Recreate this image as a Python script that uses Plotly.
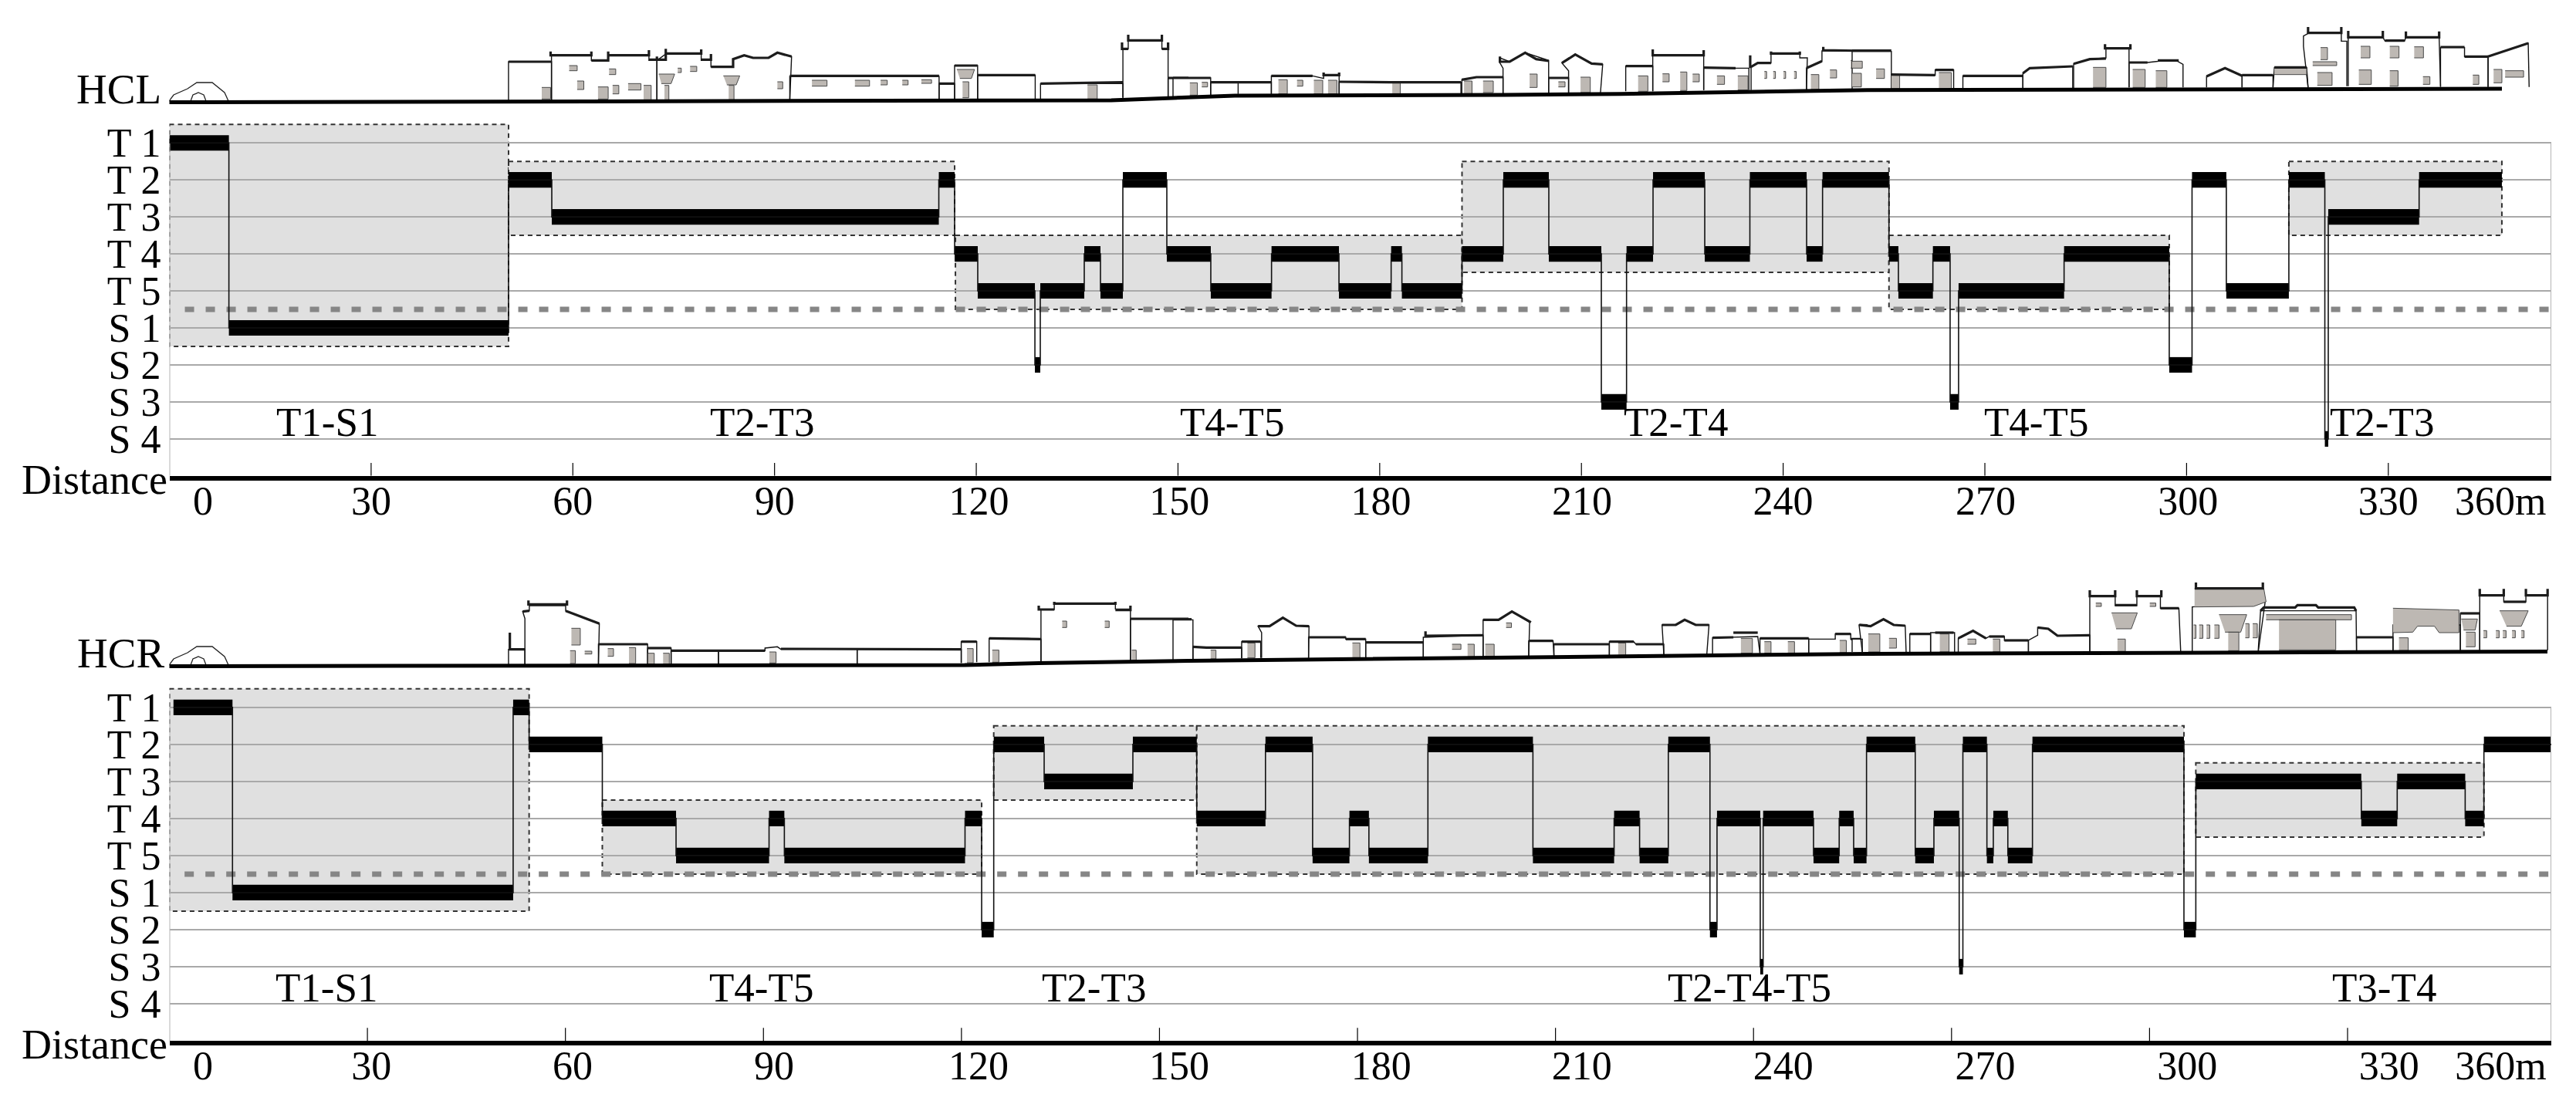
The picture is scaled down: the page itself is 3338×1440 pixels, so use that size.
import plotly.graph_objects as go

FIG_W, FIG_H = 3338, 1440
FONT = "Liberation Serif"

LEVEL_LABELS = ["T 1", "T 2", "T 3", "T 4", "T 5", "S 1", "S 2", "S 3", "S 4"]
LEVEL_VALUES = [1, 2, 3, 4, 5, 6, 7, 8, 9]
TICK_METRES = [30, 60, 90, 120, 150, 180, 210, 240, 270, 300, 330]
DIST_LABELS = ["0", "30", "60", "90", "120", "150", "180", "210", "240", "270", "300", "330", "360m"]

# ---- HCL ----
HCL_BREAKS = [0, 8.85, 50.44, 56.87, 114.43, 116.78, 120.22, 128.72, 129.52, 136.06, 138.47, 141.80,
              148.34, 154.88, 163.91, 173.94, 181.70, 183.30, 192.24, 198.38, 205.15, 212.96, 216.71,
              220.65, 228.34, 235.05, 243.49, 245.86, 255.74, 257.14, 262.27, 264.83, 266.09, 281.78,
              297.42, 300.81, 305.91, 315.21, 320.56, 321.07, 334.58, 346.89]
HCL_LEVELS = [1, 6, 2, 3, 2, 4, 5, 7, 5, 4, 5, 2, 4, 5, 4, 5, 4, 5, 4, 2, 4, 8, 4, 2, 4, 2, 4, 2, 4, 5,
              4, 8, 5, 4, 7, 2, 5, 2, 9, 3, 2]
HCL_BOX_X0 = [0, 50.44, 116.9, 192.24, 255.74, 315.21]
HCL_BOX_X1 = [50.44, 116.78, 192.24, 255.74, 297.42, 346.89]
HCL_BOX_TOP = [0.5, 1.5, 3.5, 1.5, 3.5, 1.5]
HCL_BOX_BOTTOM = [6.5, 3.5, 5.5, 4.5, 5.5, 3.5]
HCL_ZONE_TEXT = ["T1-S1", "T2-T3", "T4-T5", "T2-T4", "T4-T5", "T2-T3"]
HCL_ZONE_X = [23.5, 88.1, 158, 224, 277.6, 329]
HCL_LABEL_X = [5.0, 30, 60, 90, 120.4, 150.2, 180.2, 210.1, 240, 270.1, 300.2, 330, 346.7]

# ---- HCR ----
HCR_BREAKS = [0.62, 9.56, 52.08, 54.50, 65.59, 76.76, 90.85, 93.17, 120.54, 123.06, 124.89, 132.53,
              145.97, 155.65, 166.06, 173.20, 178.78, 181.73, 190.67, 206.58, 218.88, 222.74, 227.09,
              233.40, 234.47, 241.02, 241.46, 249.09, 252.98, 255.17, 257.12, 264.50, 267.33, 271.16,
              271.72, 275.36, 276.33, 278.53, 282.26, 305.21, 307.01, 332.08, 337.52, 347.82, 350.66, 360.87]
HCR_LEVELS = [1, 6, 1, 2, 4, 5, 4, 5, 4, 7, 2, 3, 2, 4, 2, 5, 4, 5, 2, 5, 4, 5, 2, 7, 4, 8, 4, 5, 4, 5,
              2, 5, 4, 8, 2, 5, 4, 5, 2, 7, 3, 4, 3, 4, 2]
HCR_BOX_X0 = [0, 65.59, 124.89, 155.65, 307.01]
HCR_BOX_X1 = [54.50, 123.06, 155.65, 305.21, 350.66]
HCR_BOX_TOP = [0.5, 3.5, 1.5, 1.5, 2.5]
HCR_BOX_BOTTOM = [6.5, 5.5, 3.5, 5.5, 4.5]
HCR_ZONE_TEXT = ["T1-S1", "T4-T5", "T2-T3", "T2-T4-T5", "T3-T4"]
HCR_ZONE_X = [23.9, 89.7, 140.1, 239.4, 335.6]
HCR_LABEL_X = [5.1, 30.6, 61.1, 91.6, 122.6, 153, 183.6, 214, 244.5, 275.1, 305.7, 336.3, 353.2]

# ---- street elevation drawings (drawing units, three sheets per street) ----
HCL_GROUND = [(219, 112.5), (1440, 110), (1520, 107), (1600, 104), (1950, 103), (2100, 101.7), (2420, 96.7), (3242, 95)]
HCR_GROUND = [(219, 113.5), (1250, 112), (1346, 109.5), (1540, 106.5), (2420, 97.5), (3301, 94.5)]
HCL_BRIDGE = [(219, 131), (225, 123), (243, 115), (255, 107), (275, 107), (285, 115), (291, 120), (296, 131)]
HCR_BRIDGE = [(219, 862), (225, 854), (243, 846), (255, 838), (275, 838), (285, 846), (291, 851), (296, 862)]
ARCH = [(247, 131), (250, 123), (257, 120), (264, 123), (267, 131)]

L1_WALLS = [
    [(33,330),(33,180),(130,180),(130,330)],
    [(130,330),(130,155),(220,155),(220,175),(258,175),(258,155),(350,155),(350,175),(368,175),(368,330)],
    [(368,330),(368,175),(388,150),(468,150),(468,175),(490,175),(490,200),(540,200),(540,170),(565,155),(585,165),(620,165),(640,145),(672,160),(668,330)],
    [(668,330),(668,237),(1005,237),(1005,330)],
    [(1005,330),(1005,265),(1040,265),(1040,325)],
    [(1040,325),(1040,195),(1092,195),(1092,325)],
    [(1092,325),(1092,232),(1222,232),(1222,325)],
    [(1234,325),(1234,265),(1420,265),(1420,320)],
    [(1420,320),(1420,130),(1432,130),(1432,98),(1508,98),(1508,130),(1522,130),(1522,315)],
    [(1522,315),(1522,245),(1568,245),(1568,310)],
]
L1_ROOFS = [
    [(33,180),(130,180)], [(128,140),(128,155),(220,155),(220,140)], [(220,175),(258,175),(258,140)], [(258,155),(350,155),(350,135)],
    [(350,172),(388,172),(388,130)], [(388,148),(468,148),(468,132)], [(468,172),(490,172),(490,150)],
    [(490,200),(540,200),(540,170),(565,155),(585,165),(620,165),(640,145),(672,160)],
    [(668,235),(1005,235)], [(1005,265),(1040,265)], [(1040,195),(1092,195)], [(1092,232),(1222,232)],
    [(1234,265),(1420,260)], [(1432,75),(1432,97),(1508,97),(1508,75)], [(1418,105),(1418,130),(1432,130)], [(1508,130),(1522,130),(1522,105)],
    [(1522,243),(1568,243)], [(368,160),(368,175)],
]
L1_GREYS = [
    (170,195,188,215), (260,208,275,230), (188,255,203,288), (268,272,282,305), (235,278,258,325),
    (338,272,355,330), (385,272,395,330), (530,272,542,330), (640,258,652,285), (108,280,128,325),
    (718,252,752,275), (815,252,848,275), (873,252,888,270), (922,252,935,270), (965,250,988,264),
    (1058,258,1072,320), (1340,270,1362,325), (303,265,332,290), (415,205,423,222), (443,198,458,218),
    [(372,228),(408,228),(400,265),(378,265)], [(518,235),(555,235),(547,270),(526,270)],
    [(1045,210),(1085,210),(1078,245),(1052,245)],
]
L2_WALLS = [
    [(0,315),(0,243),(85,243),(85,312)], [(85,310),(85,260),(222,260),(222,305)], [(147,260),(147,305)],
    [(222,305),(222,235),(315,235),(340,245),(340,232),(375,232),(375,305)],
    [(375,305),(375,258),(490,260),(650,260),(650,305)],
    [(652,305),(652,250),(685,240),(745,240),(745,305)],
    [(745,305),(745,205),(738,185),(738,165),(760,180),(795,145),(848,175),(848,303)],
    [(848,303),(848,243),(893,243),(893,300)],
    [(893,300),(893,215),(878,185),(908,152),(945,187),(970,190),(965,300)],
    [(1022,295),(1022,197),(1083,197),(1083,295)],
    [(1083,295),(1083,155),(1198,155),(1198,290)],
    [(1198,290),(1198,203),(1270,205),(1300,205),(1300,290)],
    [(1305,290),(1305,200),(1320,185),(1350,185),(1350,150),(1415,150),(1415,165),(1432,165),(1430,290)],
    [(1430,290),(1430,205),(1465,178),(1465,138),(1568,138),(1568,285)],
]
L2_ROOFS = [
    [(0,243),(85,243)], [(85,260),(222,260)], [(222,235),(315,235)], [(340,222),(340,232),(375,232),(375,222)],
    [(375,258),(490,260),(650,260)], [(652,250),(685,240),(745,240)],
    [(738,160),(738,180),(760,180),(795,145),(820,170),(848,177)], [(848,243),(893,243)],
    [(878,185),(908,152),(945,187),(970,190)], [(1022,197),(1083,197)], [(1083,132),(1083,155),(1198,155),(1198,135)],
    [(1198,203),(1270,205)], [(1305,200),(1320,185),(1350,185)], [(1350,140),(1350,148),(1415,148),(1415,140)],
    [(1430,205),(1465,178)], [(1468,122),(1468,135),(1568,138)], [(1303,155),(1303,205)],
]
L2_GREYS = [
    (38,262,55,310), (65,260,78,278), (238,250,258,305), (280,252,293,275), (318,252,338,305), (350,252,370,305),
    (495,262,513,305), (657,255,675,305), (700,255,723,300), (805,228,822,280), (870,258,885,278), (920,240,942,300),
    (1050,235,1072,295), (1105,227,1120,258), (1145,220,1160,292), (1173,228,1188,258), (1228,235,1245,268),
    (1275,235,1298,290), (1440,230,1458,288), (1483,212,1498,243), (1530,175,1555,205), (1535,225,1555,280),
    (1335,218,1340,245), (1355,218,1360,245), (1378,218,1383,245), (1402,218,1407,245),
]
L3_WALLS = [
    [(0,290),(0,140),(85,140),(85,285)], [(85,285),(85,230),(180,232),(180,212),(220,212),(220,285)],
    [(240,285),(240,235),(370,235),(370,283)], [(370,283),(370,225),(385,205),(478,198),(478,283)],
    [(480,283),(480,188),(515,170),(550,165),(550,128),(600,128),(600,280)],
    [(600,280),(600,183),(640,183),(665,178),(705,178),(717,190),(717,280)],
    [(768,280),(768,237),(808,205),(845,235),(845,280)], [(845,280),(845,232),(912,232),(912,280)],
    [(912,280),(915,202),(985,202),(988,280)],
    [(988,280),(978,120),(978,80),(988,70),(1060,68),(1060,100),(1072,100),(1072,275)],
    [(1075,275),(1075,85),(1150,85),(1155,100),(1197,100),(1200,85),(1272,85),(1275,275)],
    [(1275,278),(1275,125),(1327,125),(1327,160),(1378,160),(1378,278)],
    [(1378,278),(1378,160),(1465,108),(1467,278)],
]
L3_ROOFS = [
    [(0,137),(85,137)], [(85,230),(180,232)], [(180,212),(220,212)], [(240,235),(370,235)],
    [(370,225),(385,205),(478,198)], [(480,188),(515,170),(550,168)], [(548,112),(548,128),(603,128),(603,112)],
    [(600,183),(640,183)], [(665,170),(665,175),(705,175),(705,170)], [(768,237),(808,205),(845,235)],
    [(845,232),(912,232)], [(915,202),(985,202)], [(988,45),(988,68),(1060,68),(1060,45)],
    [(1075,60),(1075,85),(1150,85),(1150,60)], [(1155,98),(1197,98)], [(1200,62),(1200,85),(1272,85),(1272,62)],
    [(1275,123),(1327,123)], [(1327,160),(1378,160)], [(1378,160),(1465,108)],
]
L3_GREYS = [
    (0,178,22,205), (0,225,20,278), (52,208,70,245), (85,232,103,285), (188,222,215,285), (522,202,550,280),
    (608,210,635,280), (658,215,682,280), (1015,125,1030,172), (998,180,1050,195), (1008,222,1040,272),
    (1102,120,1122,165), (1098,212,1125,268), (1165,120,1185,165), (1218,122,1238,165), (1165,215,1183,275),
    (1237,238,1252,268), (1345,232,1358,268), (1390,210,1408,262), (1415,215,1455,240), (915,205,985,230),
]
R1_WALLS = [
    [(33,338),(33,275),(70,275),(70,338)],
    [(70,338),(70,155),(65,128),(80,125),(80,105),(162,105),(162,125),(238,175),(236,335)],
    [(236,335),(236,255),(347,255),(347,335)], [(347,335),(347,270),(400,270),(400,335)],
    [(400,335),(400,280),(507,280),(507,335)],
    [(507,335),(507,280),(612,280),(612,270),(640,265),(648,275),(820,273),(820,330)],
    [(820,330),(820,275),(1055,275),(1055,328)], [(1055,328),(1055,245),(1090,245),(1090,325)],
    [(1118,325),(1118,232),(1205,232),(1235,235),(1235,325)],
    [(1235,325),(1235,120),(1265,120),(1265,97),(1403,97),(1403,118),(1437,118),(1437,320)],
    [(1437,320),(1437,158),(1568,158),(1568,315)],
]
R1_ROOFS = [
    [(36,210),(36,275),(70,275)], [(65,128),(80,125)], [(78,85),(78,100),(165,100),(165,85)], [(162,125),(238,175)],
    [(236,255),(347,255)], [(347,270),(400,270)], [(400,280),(612,280)], [(648,273),(1055,275)],
    [(1118,232),(1235,235)], [(1230,105),(1230,120),(1265,120)], [(1265,90),(1265,97),(1403,97),(1403,90)],
    [(1403,122),(1437,122),(1437,105)], [(1437,156),(1568,156)], [(1055,245),(1090,245)],
]
R1_GREYS = [
    (175,193,195,258), (172,280,184,330), (205,282,221,293), (257,272,270,302), (305,268,320,330), (348,290,362,332),
    (382,290,396,332), (1125,278,1140,325), (1068,272,1082,327), (622,285,637,328), (1440,278,1450,320),
    (1283,165,1293,190), (1379,165,1389,190),
]
R2_WALLS = [
    [(0,315),(0,160),(45,160),(45,315)], [(45,315),(45,265),(75,268),(155,268),(155,310)],
    [(155,310),(155,245),(198,245),(198,308)],
    [(200,308),(200,210),(192,185),(218,185),(248,152),(278,183),(307,185),(306,308)],
    [(306,308),(306,228),(390,228),(390,235),(435,235),(435,308)], [(435,308),(435,248),(565,248),(565,308)],
    [(565,308),(565,228),(700,220),(700,308)], [(700,308),(700,160),(735,160),(765,128),(805,170),(803,305)],
    [(803,305),(803,242),(858,242),(860,303)], [(860,303),(860,255),(985,255),(985,300)],
    [(985,300),(985,245),(1040,245),(1045,255),(1108,255),(1108,295)],
    [(1108,295),(1104,180),(1135,180),(1155,160),(1180,180),(1210,180),(1205,295)],
    [(1218,292),(1218,230),(1320,225),(1325,290)], [(1325,290),(1325,232),(1435,232),(1435,290)],
    [(1435,288),(1435,235),(1495,235),(1495,215),(1530,215),(1530,235),(1560,235),(1560,285)],
]
R2_ROOFS = [
    [(0,158),(42,158)], [(45,265),(75,268),(155,268)], [(155,245),(198,245)], [(192,185),(218,185),(248,152),(278,183),(307,185)],
    [(306,228),(390,228)], [(390,235),(435,235)], [(435,248),(565,248)], [(570,205),(570,222),(700,220)],
    [(700,160),(735,160),(765,128),(808,170)], [(803,242),(858,242)], [(860,255),(985,255)],
    [(985,245),(1040,245)], [(1045,255),(1108,255)], [(1104,180),(1135,180),(1155,160),(1180,180),(1210,180)],
    [(1218,230),(1265,228)], [(1265,210),(1320,210)], [(1325,232),(1435,232)], [(1495,215),(1530,215)],
    [(1530,235),(1560,235)], [(1550,180),(1568,182)],
]
R2_GREYS = [
    (168,250,185,308), (405,250,422,308), (705,255,725,308), (665,255,680,308), (1005,250,1022,300),
    (1282,232,1308,290), (1335,245,1350,290), (1388,245,1403,290), (1505,240,1520,288), (630,255,650,275),
    (85,278,97,312), (752,172,764,190),
]
R3_WALLS = [
    [(0,285),(0,235),(22,235),(22,285)], [(22,285),(15,180),(40,185),(68,158),(90,180),(115,183),(117,285)],
    [(125,285),(125,215),(170,215),(170,285)], [(170,285),(170,210),(222,210),(222,285)],
    [(230,285),(230,232),(262,203),(290,232),(297,225),(330,225),(330,240),(382,240),(382,285)],
    [(382,285),(382,240),(402,220),(402,190),(425,195),(445,222),(515,220),(515,285)],
    [(515,285),(515,70),(570,70),(570,105),(617,105),(617,70),(668,70),(668,115),(708,115),(712,285)],
    [(737,285),(737,110),(895,90),(880,285)], [(880,280),(885,125),(1092,125),(1093,280)],
    [(1093,280),(1093,228),(1172,228),(1172,280)], [(1172,280),(1172,180),(1318,180),(1318,278)],
    [(1318,278),(1318,135),(1360,135),(1360,278)],
    [(1360,278),(1360,65),(1412,65),(1412,90),(1460,90),(1460,65),(1507,65),(1507,278)],
]
R3_ROOFS = [
    [(15,180),(40,185),(68,158),(90,180),(115,183)], [(125,215),(170,215)], [(180,210),(220,210)],
    [(230,232),(262,203),(290,232)], [(297,225),(330,225)], [(330,240),(382,240)], [(402,190),(425,195),(445,222),(515,220)],
    [(515,45),(515,68),(570,68),(570,45)], [(570,103),(617,103)], [(617,45),(617,68),(670,68),(670,45)], [(668,115),(708,115)],
    [(885,125),(892,112),(960,112),(965,103),(1005,103),(1010,112),(1088,112),(1092,125)],
    [(1093,228),(1172,228)], [(1318,135),(1360,135)], [(1360,40),(1360,65),(1412,65),(1412,40)], [(1412,90),(1460,90)],
    [(1460,40),(1460,65),(1507,65),(1507,40)], [(745,15),(745,38),(890,38),(890,15)],
]
R3_GREYS = [
    [(742,38),(892,38),(897,90),(870,108),(742,110)], (897,140,1082,160), (925,160,1048,277),
    [(795,140),(855,140),(842,208),(808,208)], (815,208,838,280),
    [(1172,115),(1315,122),(1315,210),(1272,210),(1262,185),(1225,185),(1215,208),(1172,210)],
    [(562,133),(618,133),(605,195),(572,195)], (575,235,592,283), [(1403,125),(1465,125),(1450,185),(1418,185)],
    [(1320,157),(1355,157),(1350,200),(1325,200)], (1330,208,1350,265), (35,215,60,285), (80,232,96,270),
    (190,215,210,285), (305,235,320,285), (1185,230,1205,280), (740,180,745,232), (752,180,760,232), (768,180,775,232),
    (785,180,795,232), (852,175,860,230), (868,175,878,230), (1368,202,1375,230), (1395,202,1402,230),
    (1410,202,1417,230), (1430,202,1437,230), (1450,202,1456,230), (528,95,540,108), (645,95,658,108), (250,235,268,255),
]
SHEET_X0 = [640, 1520, 2400]
SHEET_KX = [0.574, 0.574, 0.598]


def px(value):
    return value / FIG_W


def py(value):
    return 1 - value / FIG_H


fig = go.Figure()
shapes = []
annotations = []


def panel(xa, ya, y_t1, y_axis, breaks, levels, box_x0, box_x1, box_t, box_b,
          zone_text, zone_x, zone_y, label_x, x_max):
    unit = (y_axis - y_t1) / 9
    xname, yname = ("x", "y") if xa == 1 else (f"x{xa}", f"y{ya}")
    top_range = 0.45
    top_px = y_t1 - (1 - top_range) * unit
    layout_x = dict(domain=[px(219.5), px(3306)], range=[0, x_max], showgrid=False, zeroline=False,
                    showline=True, linecolor="black", linewidth=6, ticks="", tickmode="array",
                    tickvals=label_x, ticktext=DIST_LABELS, anchor=yname, ticklabelstandoff=-18,
                    tickfont=dict(family=FONT, size=52, color="black"))
    layout_y = dict(domain=[py(y_axis - 3), py(top_px)], range=[10, top_range], showgrid=True,
                    gridcolor="#a9a9a9", gridwidth=2, zeroline=False, showline=False, ticks="",
                    tickmode="array", tickvals=LEVEL_VALUES, ticktext=LEVEL_LABELS, anchor=xname,
                    ticklabelstandoff=10, tickfont=dict(family=FONT, size=52, color="black"))
    suffix = "" if xa == 1 else str(xa)
    fig.update_layout({f"xaxis{suffix}": layout_x, f"yaxis{suffix}": layout_y})

    for x0, x1, t, b in zip(box_x0, box_x1, box_t, box_b):
        shapes.append(dict(type="rect", xref=xname, yref=yname, x0=x0, x1=x1, y0=t, y1=b, layer="below",
                           fillcolor="#e0e0e0", line=dict(color="#333333", width=2, dash="6px,5px")))

    # panel edges, threshold, ticks
    fig.add_trace(go.Scatter(x=[0, 0, None, x_max, x_max], y=[1, 10, None, 1, 10], mode="lines", cliponaxis=False,
                             line=dict(color="#b5b5b5", width=2), xaxis=xname, yaxis=yname, hoverinfo="skip"))
    tx, ty = [], []
    for t in TICK_METRES:
        tx += [t, t, None]
        ty += [10, 9.65, None]
    fig.add_trace(go.Scatter(x=tx, y=ty, mode="lines", line=dict(color="black", width=1.2),
                             xaxis=xname, yaxis=yname, hoverinfo="skip"))
    fig.add_trace(go.Scatter(x=[2.3, x_max - 0.3], y=[5.5, 5.5], mode="lines",
                             line=dict(color="#868686", width=7, dash="12px,15px"),
                             xaxis=xname, yaxis=yname, hoverinfo="skip"))
    # route: connecting lines and black occupied bars
    fig.add_trace(go.Scatter(x=breaks, y=levels + [levels[-1]], mode="lines", line=dict(color="#111", width=1.6, shape="hv"),
                             xaxis=xname, yaxis=yname, hoverinfo="skip"))
    fig.add_trace(go.Bar(y=levels, x=[b - a for a, b in zip(breaks[:-1], breaks[1:])], base=breaks[:-1],
                         orientation="h", width=0.42, marker=dict(color="black", line=dict(width=0)),
                         xaxis=xname, yaxis=yname, hoverinfo="skip"))
    for text, x in zip(zone_text, zone_x):
        annotations.append(dict(text=text, x=x, y=zone_y, xref=xname, yref=yname, showarrow=False,
                                font=dict(family=FONT, size=53, color="black")))


panel(1, 1, 185.4, 619.8, HCL_BREAKS, HCL_LEVELS, HCL_BOX_X0, HCL_BOX_X1, HCL_BOX_TOP, HCL_BOX_BOTTOM,
      HCL_ZONE_TEXT, HCL_ZONE_X, 8.54, HCL_LABEL_X, (3306 - 219.5) / 8.713)
panel(2, 2, 917, 1352, HCR_BREAKS, HCR_LEVELS, HCR_BOX_X0, HCR_BOX_X1, HCR_BOX_TOP, HCR_BOX_BOTTOM,
      HCR_ZONE_TEXT, HCR_ZONE_X, 8.56, HCR_LABEL_X, (3306 - 219.5) / 8.553)


def flat(polys, x0, kx):
    xs, ys = [], []
    for poly in polys:
        if isinstance(poly, tuple):
            a, b, c, d = poly
            poly = [(a, b), (c, b), (c, d), (a, d)]
        for x, y in poly:
            xs.append(x0 + x * kx)
            ys.append(y / 3)
        xs.append(None)
        ys.append(None)
    return xs, ys


def street(idx, sheets, ground, bridge, y_top):
    xname, yname = f"x{idx}", f"y{idx}"
    fig.update_layout({
        f"xaxis{idx}": dict(domain=[px(219.5), px(3306)], range=[219.5, 3306], visible=False, anchor=yname),
        f"yaxis{idx}": dict(domain=[py(y_top + 125), py(y_top)], range=[125, 0], visible=False, anchor=xname),
    })

    def line(xs, ys, color, width, fill=None, fillcolor=None):
        fig.add_trace(go.Scatter(x=xs, y=ys, mode="lines", fill=fill, fillcolor=fillcolor, cliponaxis=False,
                                 line=dict(color=color, width=width), xaxis=xname, yaxis=yname, hoverinfo="skip"))

    bx = [p[0] for p in bridge]
    by = [p[1] - y_top for p in bridge]
    line(bx, by, "#222", 1.3)
    shift = bridge[0][1] - 131
    line([p[0] for p in ARCH], [p[1] + shift - y_top for p in ARCH], "#222", 1.3)
    for (walls, roofs, greys), x0, kx in zip(sheets, SHEET_X0, SHEET_KX):
        xs, ys = flat(walls, x0, kx)
        line(xs, ys, "#111", 1.4, "toself", "white")
        xs, ys = flat(greys, x0, kx)
        line(xs, ys, "#4a4a4a", 1, "toself", "#bdb8b3")
        xs, ys = flat(roofs, x0, kx)
        line(xs, ys, "#1c1c1c", 3.2)
    line([p[0] for p in ground], [p[1] for p in ground], "black", 5)


street(3, [(L1_WALLS, L1_ROOFS, L1_GREYS), (L2_WALLS, L2_ROOFS, L2_GREYS), (L3_WALLS, L3_ROOFS, L3_GREYS)],
       HCL_GROUND, HCL_BRIDGE, 20)
street(4, [(R1_WALLS, R1_ROOFS, R1_GREYS), (R2_WALLS, R2_ROOFS, R2_GREYS), (R3_WALLS, R3_ROOFS, R3_GREYS)],
       HCR_GROUND, HCR_BRIDGE, 750)

for text, x, y, size in [("HCL", 210, 115, 55), ("HCR", 214, 846, 55), ("Distance", 218, 622, 54), ("Distance", 218, 1354, 54)]:
    annotations.append(dict(text=text, x=px(x), y=py(y), xref="paper", yref="paper", xanchor="right", yanchor="middle",
                            showarrow=False, borderpad=0, font=dict(family=FONT, size=size, color="black")))

fig.update_layout(width=FIG_W, height=FIG_H, autosize=False, showlegend=False, barmode="overlay",
                  margin=dict(l=0, r=0, t=0, b=0), paper_bgcolor="white", plot_bgcolor="rgba(0,0,0,0)",
                  shapes=shapes, annotations=annotations, font=dict(family=FONT))

fig.write_html("out.html", config=dict(displayModeBar=False),
               post_script="document.body.style.margin='0';document.body.style.overflow='hidden';")
